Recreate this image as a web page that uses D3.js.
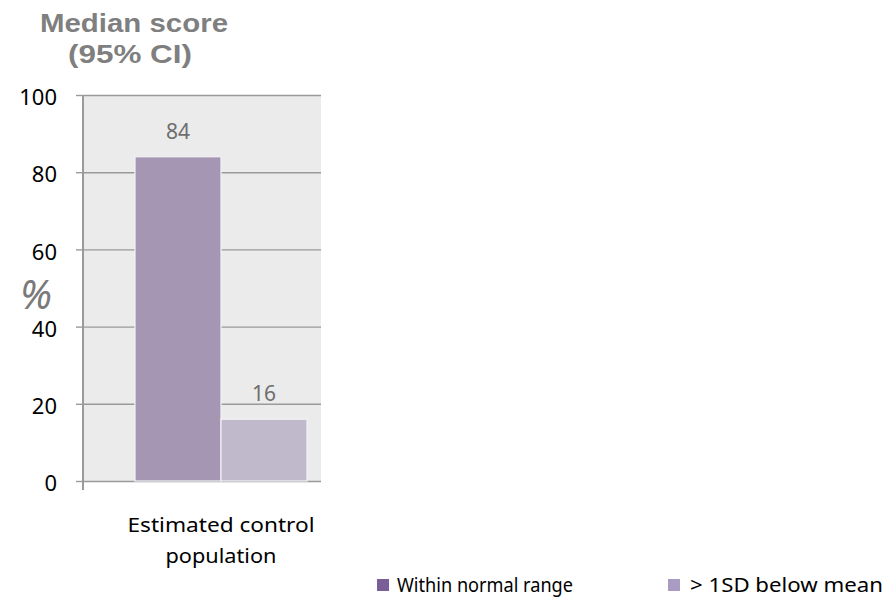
<!DOCTYPE html>
<html>
<head>
<meta charset="utf-8">
<script src="https://cdn.jsdelivr.net/npm/d3@7"></script>
<style>
  html, body { margin: 0; padding: 0; background: #fff; }
  svg { display: block; }
</style>
</head>
<body>
<svg id="chart" width="888" height="598"></svg>
<script>
// Chart data
const categories = ["Estimated control population"];
const categoryLines = [["Estimated control", "population"]];
const seriesNames = ["Within normal range", "> 1SD below mean"];
const seriesValues = [[84], [16]];
const yTicks = [0, 20, 40, 60, 80, 100];

const barColors = ["#a597b3", "#c0b8cb"];
const legendColors = ["#7a5e97", "#a99bc1"];
const font = "'Noto Sans', 'Open Sans', sans-serif";

const svg = d3.select("#chart");
const plot = { left: 83, right: 321, top: 95, bottom: 481 };

const y = d3.scaleLinear().domain([0, 100]).range([plot.bottom, plot.top]);
// the category band sits right of centre inside the plot area
const x0 = d3.scaleBand().domain(categories).range([plot.left + 52, plot.right - 14]).padding(0);
const x1 = d3.scaleBand().domain(seriesNames).range([0, x0.bandwidth()]).padding(0);

// Plot background
svg.append("rect")
  .attr("x", plot.left).attr("y", plot.top)
  .attr("width", plot.right - plot.left).attr("height", plot.bottom - plot.top)
  .attr("fill", "#ebebeb");

// Gridlines and left axis
const yAxis = d3.axisLeft(y).tickValues(yTicks).tickSize(-(plot.right - plot.left)).tickPadding(26);
const gAxis = svg.append("g").attr("transform", `translate(${plot.left},0)`).call(yAxis);
gAxis.select(".domain").remove();
gAxis.selectAll(".tick line").attr("stroke", "#9a9a9a").attr("stroke-width", 1.4);
gAxis.selectAll(".tick").append("line")
  .attr("x1", -7).attr("x2", 0).attr("stroke", "#9a9a9a").attr("stroke-width", 1.4);
gAxis.selectAll(".tick text")
  .attr("fill", "#000").attr("font-family", font).attr("font-size", 22)
  .attr("dy", "0.44em");

svg.append("line")
  .attr("x1", plot.left).attr("x2", plot.left)
  .attr("y1", plot.top).attr("y2", plot.bottom + 9)
  .attr("stroke", "#9a9a9a").attr("stroke-width", 2);

// Bars
const rows = categories.map((c, ci) => seriesNames.map((s, si) => ({ c, s, si, v: seriesValues[si][ci] })));
const gCat = svg.selectAll("g.cat").data(rows).join("g")
  .attr("class", "cat")
  .attr("transform", d => `translate(${x0(d[0].c)},0)`);

gCat.selectAll("rect").data(d => d).join("rect")
  .attr("x", d => x1(d.s))
  .attr("y", d => y(d.v))
  .attr("width", x1.bandwidth())
  .attr("height", d => y(0) - y(d.v))
  .attr("fill", d => barColors[d.si])
  .attr("stroke", "#f4f2f6").attr("stroke-width", 1.2);

gCat.selectAll("text.val").data(d => d).join("text")
  .attr("class", "val")
  .attr("x", d => x1(d.s) + x1.bandwidth() / 2)
  .attr("y", d => y(d.v) - 18)
  .attr("text-anchor", "middle")
  .attr("fill", "#6e6e6e")
  .attr("font-family", font).attr("font-size", 21)
  .text(d => d.v);

// Category label (two lines)
const catWidths = [187, 111];
categories.forEach((c, ci) => {
  const cx = x0(c) + x0.bandwidth() / 2;
  categoryLines[ci].forEach((line, li) => {
    svg.append("text")
      .attr("x", cx).attr("y", 532 + li * 31)
      .attr("text-anchor", "middle")
      .attr("fill", "#000").attr("font-family", font).attr("font-size", 19)
      .attr("textLength", catWidths[li]).attr("lengthAdjust", "spacingAndGlyphs")
      .text(line);
  });
});

// Title
const titleFont = "'Liberation Sans', Arial, sans-serif";
[["Median score", 134, 32, 188], ["(95% CI)", 130, 63, 124]].forEach(([txt, tx, ty, w]) => {
  svg.append("text")
    .attr("x", tx).attr("y", ty).attr("text-anchor", "middle")
    .attr("fill", "#7f7f7f").attr("font-family", titleFont)
    .attr("font-size", 25).attr("font-weight", "bold")
    .attr("textLength", w).attr("lengthAdjust", "spacingAndGlyphs")
    .text(txt);
});

// Y axis unit
svg.append("text")
  .attr("x", 36).attr("y", 309).attr("text-anchor", "middle")
  .attr("fill", "#7a7a7a").attr("font-family", font)
  .attr("font-size", 40).attr("font-style", "italic")
  .text("%");

// Legend
const legendX = [377, 668];
const legendWidths = [176, 193];
const legend = svg.selectAll("g.legend").data(seriesNames).join("g")
  .attr("class", "legend")
  .attr("transform", (d, i) => `translate(${legendX[i]},0)`);
legend.append("rect").attr("x", 0).attr("y", 579).attr("width", 12).attr("height", 12)
  .attr("fill", (d, i) => legendColors[i]);
legend.append("text").attr("x", (d, i) => i === 0 ? 20 : 22).attr("y", 592)
  .attr("fill", "#000").attr("font-family", font).attr("font-size", 19)
  .attr("textLength", (d, i) => legendWidths[i]).attr("lengthAdjust", "spacingAndGlyphs")
  .text(d => d);
</script>
</body>
</html>
